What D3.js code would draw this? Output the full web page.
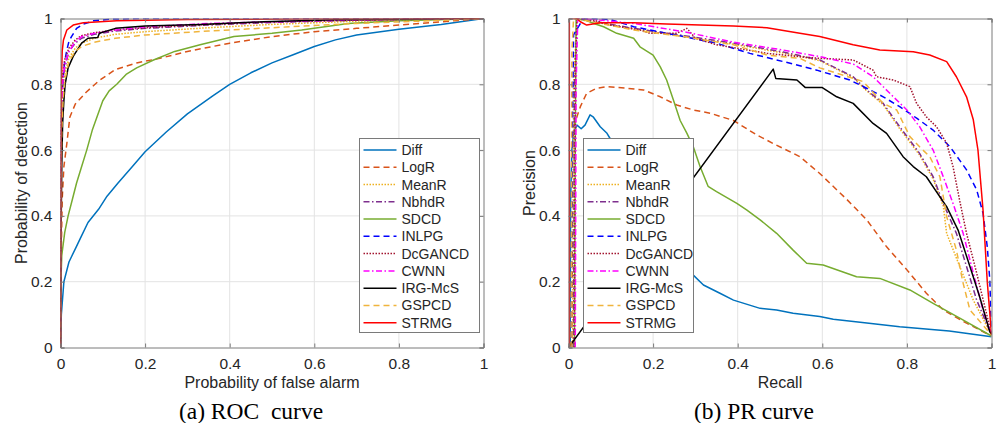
<!DOCTYPE html>
<html>
<head>
<meta charset="utf-8">
<script src="https://cdn.jsdelivr.net/npm/d3@7"></script>
<style>
  body { margin: 0; background: #fff; }
  svg { display: block; }
</style>
</head>
<body>
<div id="main-frame"></div>
<script>
// tick values shared by both panels
var xTicks = [0, 0.2, 0.4, 0.6, 0.8, 1];
var yTicks = [0, 0.2, 0.4, 0.6, 0.8, 1];
var methods = ['Diff', 'LogR', 'MeanR', 'NbhdR', 'SDCD', 'INLPG', 'DcGANCD', 'CWNN', 'IRG-McS', 'GSPCD', 'STRMG'];

// (a) ROC: [false alarm, detection]
var rocDiff = [[0,0],[0.002,0.1],[0.008,0.2],[0.02,0.26],[0.035,0.3],[0.05,0.34],[0.065,0.38],[0.09,0.42],[0.11,0.46],[0.136,0.5],[0.17,0.55],[0.2,0.595],[0.25,0.655],[0.3,0.71],[0.36,0.765],[0.4,0.8],[0.45,0.835],[0.5,0.865],[0.55,0.89],[0.6,0.915],[0.65,0.935],[0.7,0.95],[0.8,0.967],[0.9,0.982],[1,1]];
var rocLogR = [[0,0],[0.002,0.3],[0.004,0.45],[0.008,0.55],[0.015,0.62],[0.022,0.7],[0.035,0.74],[0.06,0.775],[0.09,0.81],[0.13,0.845],[0.18,0.865],[0.235,0.879],[0.3,0.9],[0.4,0.925],[0.5,0.945],[0.6,0.96],[0.7,0.97],[0.8,0.98],[0.9,0.99],[1,1]];
var rocMeanR = [[0,0],[0.001,0.55],[0.003,0.7],[0.006,0.78],[0.01,0.83],[0.02,0.88],[0.035,0.91],[0.05,0.925],[0.08,0.94],[0.13,0.952],[0.2,0.96],[0.35,0.972],[0.5,0.982],[0.7,0.992],[1,1]];
var rocNbhdR = [[0,0],[0.001,0.6],[0.003,0.74],[0.006,0.81],[0.01,0.85],[0.02,0.9],[0.035,0.925],[0.05,0.94],[0.08,0.952],[0.13,0.962],[0.2,0.97],[0.35,0.98],[0.5,0.988],[0.7,0.995],[1,1]];
var rocSDCD = [[0,0],[0.001,0.2],[0.003,0.28],[0.01,0.35],[0.018,0.4],[0.028,0.45],[0.038,0.5],[0.05,0.55],[0.062,0.6],[0.075,0.66],[0.086,0.7],[0.1,0.75],[0.115,0.78],[0.133,0.8],[0.155,0.83],[0.18,0.85],[0.22,0.874],[0.27,0.9],[0.33,0.92],[0.41,0.945],[0.5,0.955],[0.57,0.965],[0.68,0.985],[0.8,0.993],[1,1]];
var rocINLPG = [[0,0],[0.001,0.5],[0.003,0.72],[0.006,0.82],[0.01,0.87],[0.015,0.905],[0.02,0.93],[0.026,0.945],[0.038,0.97],[0.054,0.983],[0.078,0.993],[0.12,0.998],[0.2,1],[1,1]];
var rocDcGANCD = [[0,0],[0.001,0.65],[0.003,0.78],[0.006,0.84],[0.01,0.875],[0.02,0.91],[0.035,0.935],[0.05,0.948],[0.08,0.957],[0.13,0.965],[0.2,0.972],[0.35,0.982],[0.5,0.99],[0.7,0.995],[1,1]];
var rocCWNN = [[0,0],[0.001,0.6],[0.003,0.75],[0.006,0.82],[0.01,0.86],[0.02,0.9],[0.035,0.93],[0.05,0.945],[0.08,0.955],[0.13,0.965],[0.2,0.975],[0.35,0.985],[0.5,0.99],[0.7,0.996],[1,1]];
var rocIRG = [[0,0],[0.001,0.3],[0.003,0.55],[0.005,0.68],[0.008,0.75],[0.011,0.8],[0.018,0.85],[0.03,0.885],[0.05,0.925],[0.065,0.94],[0.088,0.942],[0.092,0.955],[0.13,0.97],[0.2,0.977],[0.33,0.982],[0.48,0.99],[0.65,0.996],[0.8,0.998],[1,1]];
var rocGSPCD = [[0,0],[0.001,0.5],[0.003,0.66],[0.006,0.75],[0.01,0.81],[0.02,0.87],[0.035,0.9],[0.05,0.915],[0.08,0.928],[0.13,0.94],[0.2,0.95],[0.35,0.962],[0.5,0.972],[0.7,0.985],[0.85,0.992],[1,1]];
var rocSTRMG = [[0,0],[0.001,0.5],[0.002,0.8],[0.004,0.9],[0.007,0.935],[0.015,0.965],[0.03,0.98],[0.054,0.987],[0.133,0.993],[0.3,0.997],[0.6,0.999],[1,1]];

// (b) PR: [recall, precision]
var prDiff = [[0.004,0],[0.005,0.45],[0.008,0.6],[0.012,0.651],[0.02,0.676],[0.03,0.665],[0.039,0.676],[0.051,0.707],[0.059,0.7],[0.075,0.671],[0.091,0.651],[0.098,0.636],[0.12,0.55],[0.15,0.45],[0.2,0.34],[0.25,0.27],[0.295,0.22],[0.319,0.19],[0.358,0.165],[0.39,0.144],[0.453,0.119],[0.492,0.114],[0.531,0.104],[0.594,0.094],[0.626,0.086],[0.7,0.075],[0.783,0.063],[0.9,0.05],[1,0.033]];
var prLogR = [[0.008,0],[0.01,0.6],[0.012,0.671],[0.028,0.732],[0.043,0.773],[0.067,0.788],[0.091,0.793],[0.138,0.788],[0.177,0.783],[0.217,0.762],[0.256,0.737],[0.295,0.722],[0.335,0.712],[0.39,0.69],[0.445,0.646],[0.484,0.62],[0.547,0.58],[0.594,0.529],[0.658,0.45],[0.705,0.388],[0.752,0.306],[0.8,0.236],[0.846,0.165],[0.886,0.114],[0.941,0.074],[1,0.035]];
var prMeanR = [[0.01,0],[0.012,0.8],[0.02,1],[0.035,0.995],[0.154,0.968],[0.272,0.945],[0.39,0.922],[0.508,0.895],[0.594,0.872],[0.673,0.82],[0.705,0.78],[0.744,0.738],[0.783,0.665],[0.83,0.585],[0.862,0.512],[0.886,0.43],[0.894,0.347],[0.925,0.246],[0.957,0.144],[1,0.038]];
var prNbhdR = [[0.012,0],[0.014,0.8],[0.02,1],[0.035,0.997],[0.154,0.97],[0.272,0.948],[0.39,0.925],[0.508,0.898],[0.594,0.874],[0.673,0.823],[0.705,0.783],[0.744,0.742],[0.783,0.671],[0.83,0.59],[0.862,0.519],[0.886,0.438],[0.917,0.347],[0.941,0.246],[0.965,0.144],[1,0.038]];
var prSDCD = [[0.014,0],[0.016,0.6],[0.018,1],[0.04,0.995],[0.06,0.985],[0.083,0.975],[0.114,0.955],[0.154,0.94],[0.169,0.914],[0.2,0.889],[0.217,0.853],[0.232,0.813],[0.248,0.752],[0.264,0.69],[0.28,0.651],[0.295,0.61],[0.311,0.55],[0.33,0.49],[0.35,0.474],[0.398,0.438],[0.421,0.418],[0.453,0.388],[0.492,0.347],[0.531,0.296],[0.563,0.256],[0.602,0.251],[0.681,0.215],[0.736,0.21],[0.807,0.175],[0.862,0.134],[0.925,0.089],[1,0.035]];
var prINLPG = [[0.006,0],[0.008,0.5],[0.012,0.95],[0.035,1],[0.098,0.997],[0.154,0.975],[0.193,0.965],[0.272,0.945],[0.35,0.925],[0.429,0.894],[0.508,0.869],[0.587,0.843],[0.665,0.813],[0.705,0.788],[0.744,0.762],[0.783,0.732],[0.823,0.697],[0.862,0.661],[0.902,0.61],[0.941,0.54],[0.965,0.479],[0.98,0.408],[0.99,0.306],[0.996,0.205],[1,0.044]];
var prDcGANCD = [[0.014,0],[0.016,0.8],[0.02,1],[0.06,0.995],[0.098,0.98],[0.169,0.965],[0.193,0.955],[0.256,0.955],[0.28,0.97],[0.3,0.94],[0.35,0.92],[0.469,0.894],[0.547,0.884],[0.594,0.879],[0.673,0.874],[0.72,0.843],[0.728,0.823],[0.768,0.813],[0.807,0.793],[0.823,0.742],[0.846,0.701],[0.87,0.671],[0.894,0.621],[0.909,0.55],[0.925,0.445],[0.941,0.347],[0.965,0.226],[0.988,0.104],[1,0.038]];
var prCWNN = [[0.016,0],[0.018,0.8],[0.022,1],[0.035,1],[0.154,0.985],[0.272,0.96],[0.39,0.928],[0.508,0.904],[0.594,0.884],[0.673,0.862],[0.72,0.823],[0.768,0.762],[0.8,0.722],[0.83,0.671],[0.862,0.6],[0.886,0.519],[0.909,0.438],[0.933,0.347],[0.957,0.226],[0.98,0.114],[1,0.038]];
var prIRG = [[0,0],[0.484,0.846],[0.49,0.818],[0.54,0.813],[0.56,0.79],[0.6,0.79],[0.634,0.762],[0.673,0.742],[0.72,0.681],[0.752,0.651],[0.791,0.58],[0.815,0.55],[0.846,0.519],[0.878,0.458],[0.894,0.428],[0.921,0.357],[0.949,0.246],[0.972,0.154],[0.996,0.048],[1,0.038]];
var prGSPCD = [[0.006,0],[0.008,0.9],[0.012,1],[0.035,0.995],[0.154,0.965],[0.209,0.955],[0.272,0.945],[0.39,0.92],[0.469,0.889],[0.547,0.879],[0.594,0.85],[0.697,0.808],[0.744,0.742],[0.776,0.722],[0.807,0.641],[0.83,0.61],[0.854,0.58],[0.878,0.519],[0.894,0.398],[0.917,0.296],[0.933,0.195],[0.949,0.114],[1,0.038]];
var prSTRMG = [[0.002,0],[0.002,1],[0.02,1],[0.028,0.99],[0.043,0.98],[0.075,0.987],[0.154,0.987],[0.232,0.983],[0.311,0.98],[0.39,0.977],[0.469,0.972],[0.547,0.955],[0.594,0.945],[0.673,0.92],[0.736,0.904],[0.815,0.899],[0.854,0.889],[0.894,0.869],[0.917,0.823],[0.941,0.762],[0.957,0.692],[0.968,0.6],[0.98,0.418],[0.99,0.2],[1,0.04]];

var rocData = [rocDiff, rocLogR, rocMeanR, rocNbhdR, rocSDCD, rocINLPG, rocDcGANCD, rocCWNN, rocIRG, rocGSPCD, rocSTRMG];
var prData = [prDiff, prLogR, prMeanR, prNbhdR, prSDCD, prINLPG, prDcGANCD, prCWNN, prIRG, prGSPCD, prSTRMG];

// line styles, same order as methods
var colors = ['#0072BD', '#D95319', '#EDB120', '#7E2F8E', '#77AC30', '#0000FF', '#A2142F', '#FF00FF', '#000000', '#F0B43C', '#FF0000'];
var dashes = [null, '6,4', '1.5,1.5', '6,2.5,1.5,2.5', null, '6,4', '1.5,1.5', '6,2.5,1.5,2.5', null, '6,4', null];

var W = 1004, H = 423;
var svg = d3.select('#main-frame').append('svg')
  .attr('width', W)
  .attr('height', H);

var sans = "'Liberation Sans', Arial, sans-serif";
var serif = "'Liberation Serif', 'Times New Roman', serif";

function drawPanel(opt) {
  var x = d3.scaleLinear().domain([0, 1]).range([opt.left, opt.right]);
  var y = d3.scaleLinear().domain([0, 1]).range([347.5, 18.5]);
  var g = svg.append('g');

  g.append('clipPath').attr('id', opt.id + '-clip')
    .append('rect')
    .attr('x', opt.left).attr('y', 18.5)
    .attr('width', opt.right - opt.left).attr('height', 329);

  // grid
  g.selectAll('.vgrid').data(xTicks.slice(1, -1)).enter().append('line')
    .attr('x1', function(d) { return x(d); }).attr('x2', function(d) { return x(d); })
    .attr('y1', y(0)).attr('y2', y(1))
    .style('stroke', '#e3e3e3').style('stroke-width', 1);
  g.selectAll('.hgrid').data(yTicks.slice(1, -1)).enter().append('line')
    .attr('y1', function(d) { return y(d); }).attr('y2', function(d) { return y(d); })
    .attr('x1', x(0)).attr('x2', x(1))
    .style('stroke', '#e3e3e3').style('stroke-width', 1);

  // curves
  var line = d3.line()
    .x(function(d) { return x(d[0]); })
    .y(function(d) { return y(d[1]); });
  var curves = g.append('g').attr('clip-path', 'url(#' + opt.id + '-clip)');
  opt.data.forEach(function(series, i) {
    curves.append('path')
      .attr('d', line(series))
      .style('fill', 'none')
      .style('stroke', colors[i])
      .style('stroke-width', 1.5)
      .style('stroke-linejoin', 'round')
      .style('stroke-dasharray', dashes[i]);
  });

  // axes (ticks inward on all four sides, like matlab box on)
  var axisColor = '#7a7a7a';
  g.append('g').attr('transform', 'translate(0,' + y(0) + ')')
    .call(d3.axisBottom(x).tickValues(xTicks).tickSize(-4).tickFormat(d3.format('~g')).tickPadding(10));
  g.append('g').attr('transform', 'translate(' + x(0) + ',0)')
    .call(d3.axisLeft(y).tickValues(yTicks).tickSize(-4).tickFormat(d3.format('~g')).tickPadding(8));
  g.append('g').attr('transform', 'translate(0,' + y(1) + ')')
    .call(d3.axisTop(x).tickValues(xTicks).tickSize(-4).tickFormat(''));
  g.append('g').attr('transform', 'translate(' + x(1) + ',0)')
    .call(d3.axisRight(y).tickValues(yTicks).tickSize(-4).tickFormat(''));
  g.selectAll('.domain, .tick line').style('stroke', axisColor);
  g.selectAll('.tick text')
    .style('font-family', sans).style('font-size', '15.5px').style('fill', '#262626');

  // labels
  g.append('text')
    .attr('x', (opt.left + opt.right) / 2).attr('y', 388)
    .attr('text-anchor', 'middle')
    .style('font-family', sans).style('font-size', '16px').style('fill', '#262626')
    .text(opt.xLabel);
  g.append('text')
    .attr('transform', 'translate(' + opt.yLabelX + ',' + y(0.5) + ') rotate(-90)')
    .attr('text-anchor', 'middle')
    .style('font-family', sans).style('font-size', '16px').style('fill', '#262626')
    .text(opt.yLabel);
  g.append('text')
    .attr('x', opt.captionX).attr('y', 419)
    .attr('text-anchor', 'middle')
    .style('font-family', serif).style('font-size', '23.5px').style('fill', '#000')
    .style('white-space', 'pre')
    .text(opt.caption);

  // legend
  var lg = g.append('g');
  lg.append('rect')
    .attr('x', opt.legX).attr('y', 138.5)
    .attr('width', opt.legW).attr('height', 194)
    .style('fill', '#fff').style('stroke', axisColor).style('stroke-width', 1);
  methods.forEach(function(name, i) {
    var cy = 150 + i * 17.27;
    lg.append('line')
      .attr('x1', opt.legX + 4).attr('x2', opt.legX + 37)
      .attr('y1', cy).attr('y2', cy)
      .style('stroke', colors[i]).style('stroke-width', 1.5)
      .style('stroke-dasharray', dashes[i]);
    lg.append('text')
      .attr('x', opt.legX + 42).attr('y', cy + 5)
      .style('font-family', sans).style('font-size', '14px').style('fill', '#262626')
      .text(name);
  });
}

drawPanel({
  id: 'roc', left: 60.5, right: 483.5, data: rocData,
  xLabel: 'Probability of false alarm', yLabel: 'Probability of detection', yLabelX: 27,
  caption: '(a) ROC  curve', captionX: 251,
  legX: 359.5, legW: 120
});
drawPanel({
  id: 'pr', left: 568.5, right: 991.5, data: prData,
  xLabel: 'Recall', yLabel: 'Precision', yLabelX: 535,
  caption: '(b) PR curve', captionX: 754,
  legX: 583.5, legW: 110
});
</script>
</body>
</html>
